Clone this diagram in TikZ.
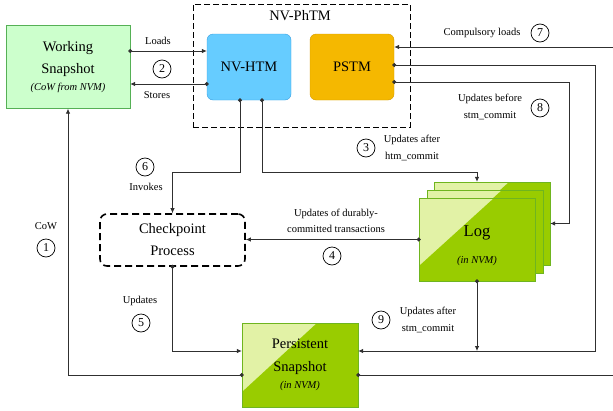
\documentclass[tikz,border=0pt]{standalone}
\usepackage{fontspec}
\setmainfont{Liberation Serif}
\usetikzlibrary{arrows.meta,positioning,calc}

\definecolor{wsfill}{HTML}{CCFFCC}
\definecolor{wsdraw}{HTML}{55B055}
\definecolor{htmfill}{HTML}{66CCFF}
\definecolor{htmdraw}{HTML}{3A9FE0}
\definecolor{pstmfill}{HTML}{F5B800}
\definecolor{pstmdraw}{HTML}{D49A00}
\definecolor{nvmlight}{HTML}{E2F2A6}
\definecolor{nvmdark}{HTML}{99CC00}
\definecolor{nvmdraw}{HTML}{6FB51F}
\definecolor{wire}{HTML}{303030}

\newcommand{\itsm}{\fontsize{10.5}{12}\selectfont\itshape}

\begin{document}
\begin{tikzpicture}[x=1pt, y=-1pt,
    bigtxt/.style={font=\fontsize{14.5}{22}\selectfont, align=center},
    wsbox/.style={bigtxt, draw=wsdraw, fill=wsfill, minimum width=124pt, minimum height=83pt},
    tmbox/.style={bigtxt, rounded corners=6pt, minimum width=84pt, minimum height=66pt},
    phbox/.style={draw, line width=1pt, dash pattern=on 6pt off 3pt, minimum width=217pt, minimum height=123pt},
    cpbox/.style={bigtxt, draw, fill=white, line width=1.6pt, dash pattern=on 7pt off 4pt, rounded corners=7pt, minimum width=145pt, minimum height=52pt},
    nvm/.style={bigtxt, draw=nvmdraw, fill=nvmlight, minimum width=116pt, minimum height=83pt,
        path picture={\fill[nvmdark] ($(path picture bounding box.south west)+(0pt,15pt)$)
            -- ($(path picture bounding box.north west)+(75pt,0pt)$)
            -- (path picture bounding box.north east) -- (path picture bounding box.south east)
            -- (path picture bounding box.south west) -- cycle;}},
    lbl/.style={font=\fontsize{10.5}{16.5}\selectfont, align=center, inner sep=0pt},
    num/.style={circle, draw, line width=0.7pt, minimum size=18pt, inner sep=0pt, font=\fontsize{12}{12}\selectfont},
    line/.style={-{Latex[length=5pt,width=4.5pt]}, wire, line width=0.8pt},
    dotline/.style={line, {Circle[length=4pt]}-{Latex[length=5pt,width=4.5pt]}, shorten <=-2pt}
]
\useasboundingbox (0,0) rectangle (613,410);

\node[wsbox] (ws) at (68,67) {Working\\Snapshot\\[-5pt]{\itsm (CoW from NVM)}};
\node[phbox] (phtm) at (301.5,65.5) {};
\node[font=\fontsize{14.5}{17}\selectfont] (phtmlbl) at (300,16) {NV-PhTM};
\node[tmbox, fill=htmfill, draw=htmdraw] (htm) at (249,67) {NV-HTM};
\node[tmbox, fill=pstmfill, draw=pstmdraw] (pstm) at (352,67) {PSTM};
\node[cpbox] (cp) at (172.5,240) {Checkpoint\\Process};
\node[nvm] (log3) at (492,223.5) {};
\node[nvm] (log2) at (485,231.5) {};
\node[nvm] (log1) at (477,239.5) {};
\node[font=\fontsize{16.5}{27}\selectfont, align=center] (logtxt) at (477,246) {Log\\{\itsm (in NVM)}};
\node[nvm, minimum height=84pt, font=\fontsize{14.5}{23}\selectfont] (ps) at (300,365) {Persistent\\Snapshot\\[-6pt]{\itsm (in NVM)}};

\coordinate (rt) at (613,47);
\coordinate (rb) at (613,375);
\path ([yshift=14pt]ps.east) coordinate (psin);

\draw[dotline] ([yshift=16pt]ws.east) -- ([yshift=16pt]htm.west);
\draw[dotline] ([yshift=-17pt]htm.west) -- ([yshift=-17pt]ws.east);
\draw[dotline] ([xshift=-9pt]htm.south) -- ++(0,72) -| (cp.north);
\draw[dotline] ([xshift=13pt]htm.south) -- ++(0,72) -| (log3.north -| log1.north);
\draw[dotline] (log1.west) -- (log1.west -| cp.east);
\draw[dotline] (cp.south) |- ([yshift=14pt]ps.west);
\draw[dotline] ([yshift=-10pt]ps.west) -| (ws.south);
\draw[dotline, {Circle[length=4pt]}-] ([yshift=-10pt]ps.east) -- (rb);
\draw[line] (rt) -- (rt -| pstm.east);
\draw[dotline] ([yshift=2pt]pstm.east) -- ++(201,0) |- (psin);
\draw[dotline] ([yshift=-15pt]pstm.east) -- ++(175,0) |- (log3.east);
\draw[dotline] (log1.south) -- (log1.south |- psin);

\node[lbl] (loadslbl) at (158,41) {Loads};
\node[lbl] (storeslbl) at (157,95) {Stores};
\node[num] (n2) at (162,69) {2};
\node[num] (n3) at (366,148) {3};
\node[lbl] (htmclbl) at (412,148) {Updates after\\htm\_commit};
\node[num] (n6) at (145,167) {6};
\node[lbl] (invlbl) at (146,187) {Invokes};
\node[lbl] (cowlbl) at (46,226) {CoW};
\node[num] (n1) at (46,248) {1};
\node[lbl] (durlbl) at (336,221) {Updates of durably-\\committed transactions};
\node[num] (n4) at (332,256) {4};
\node[lbl] (updlbl) at (140,301) {Updates};
\node[num] (n5) at (141,323) {5};
\node[num] (n9) at (381,320) {9};
\node[lbl] (stmalbl) at (428,320) {Updates after\\stm\_commit};
\node[lbl] (complbl) at (482,33) {Compulsory loads};
\node[num] (n7) at (540,33) {7};
\node[lbl] (stmblbl) at (490,107) {Updates before\\stm\_commit};
\node[num] (n8) at (540,108) {8};
\end{tikzpicture}
\end{document}
